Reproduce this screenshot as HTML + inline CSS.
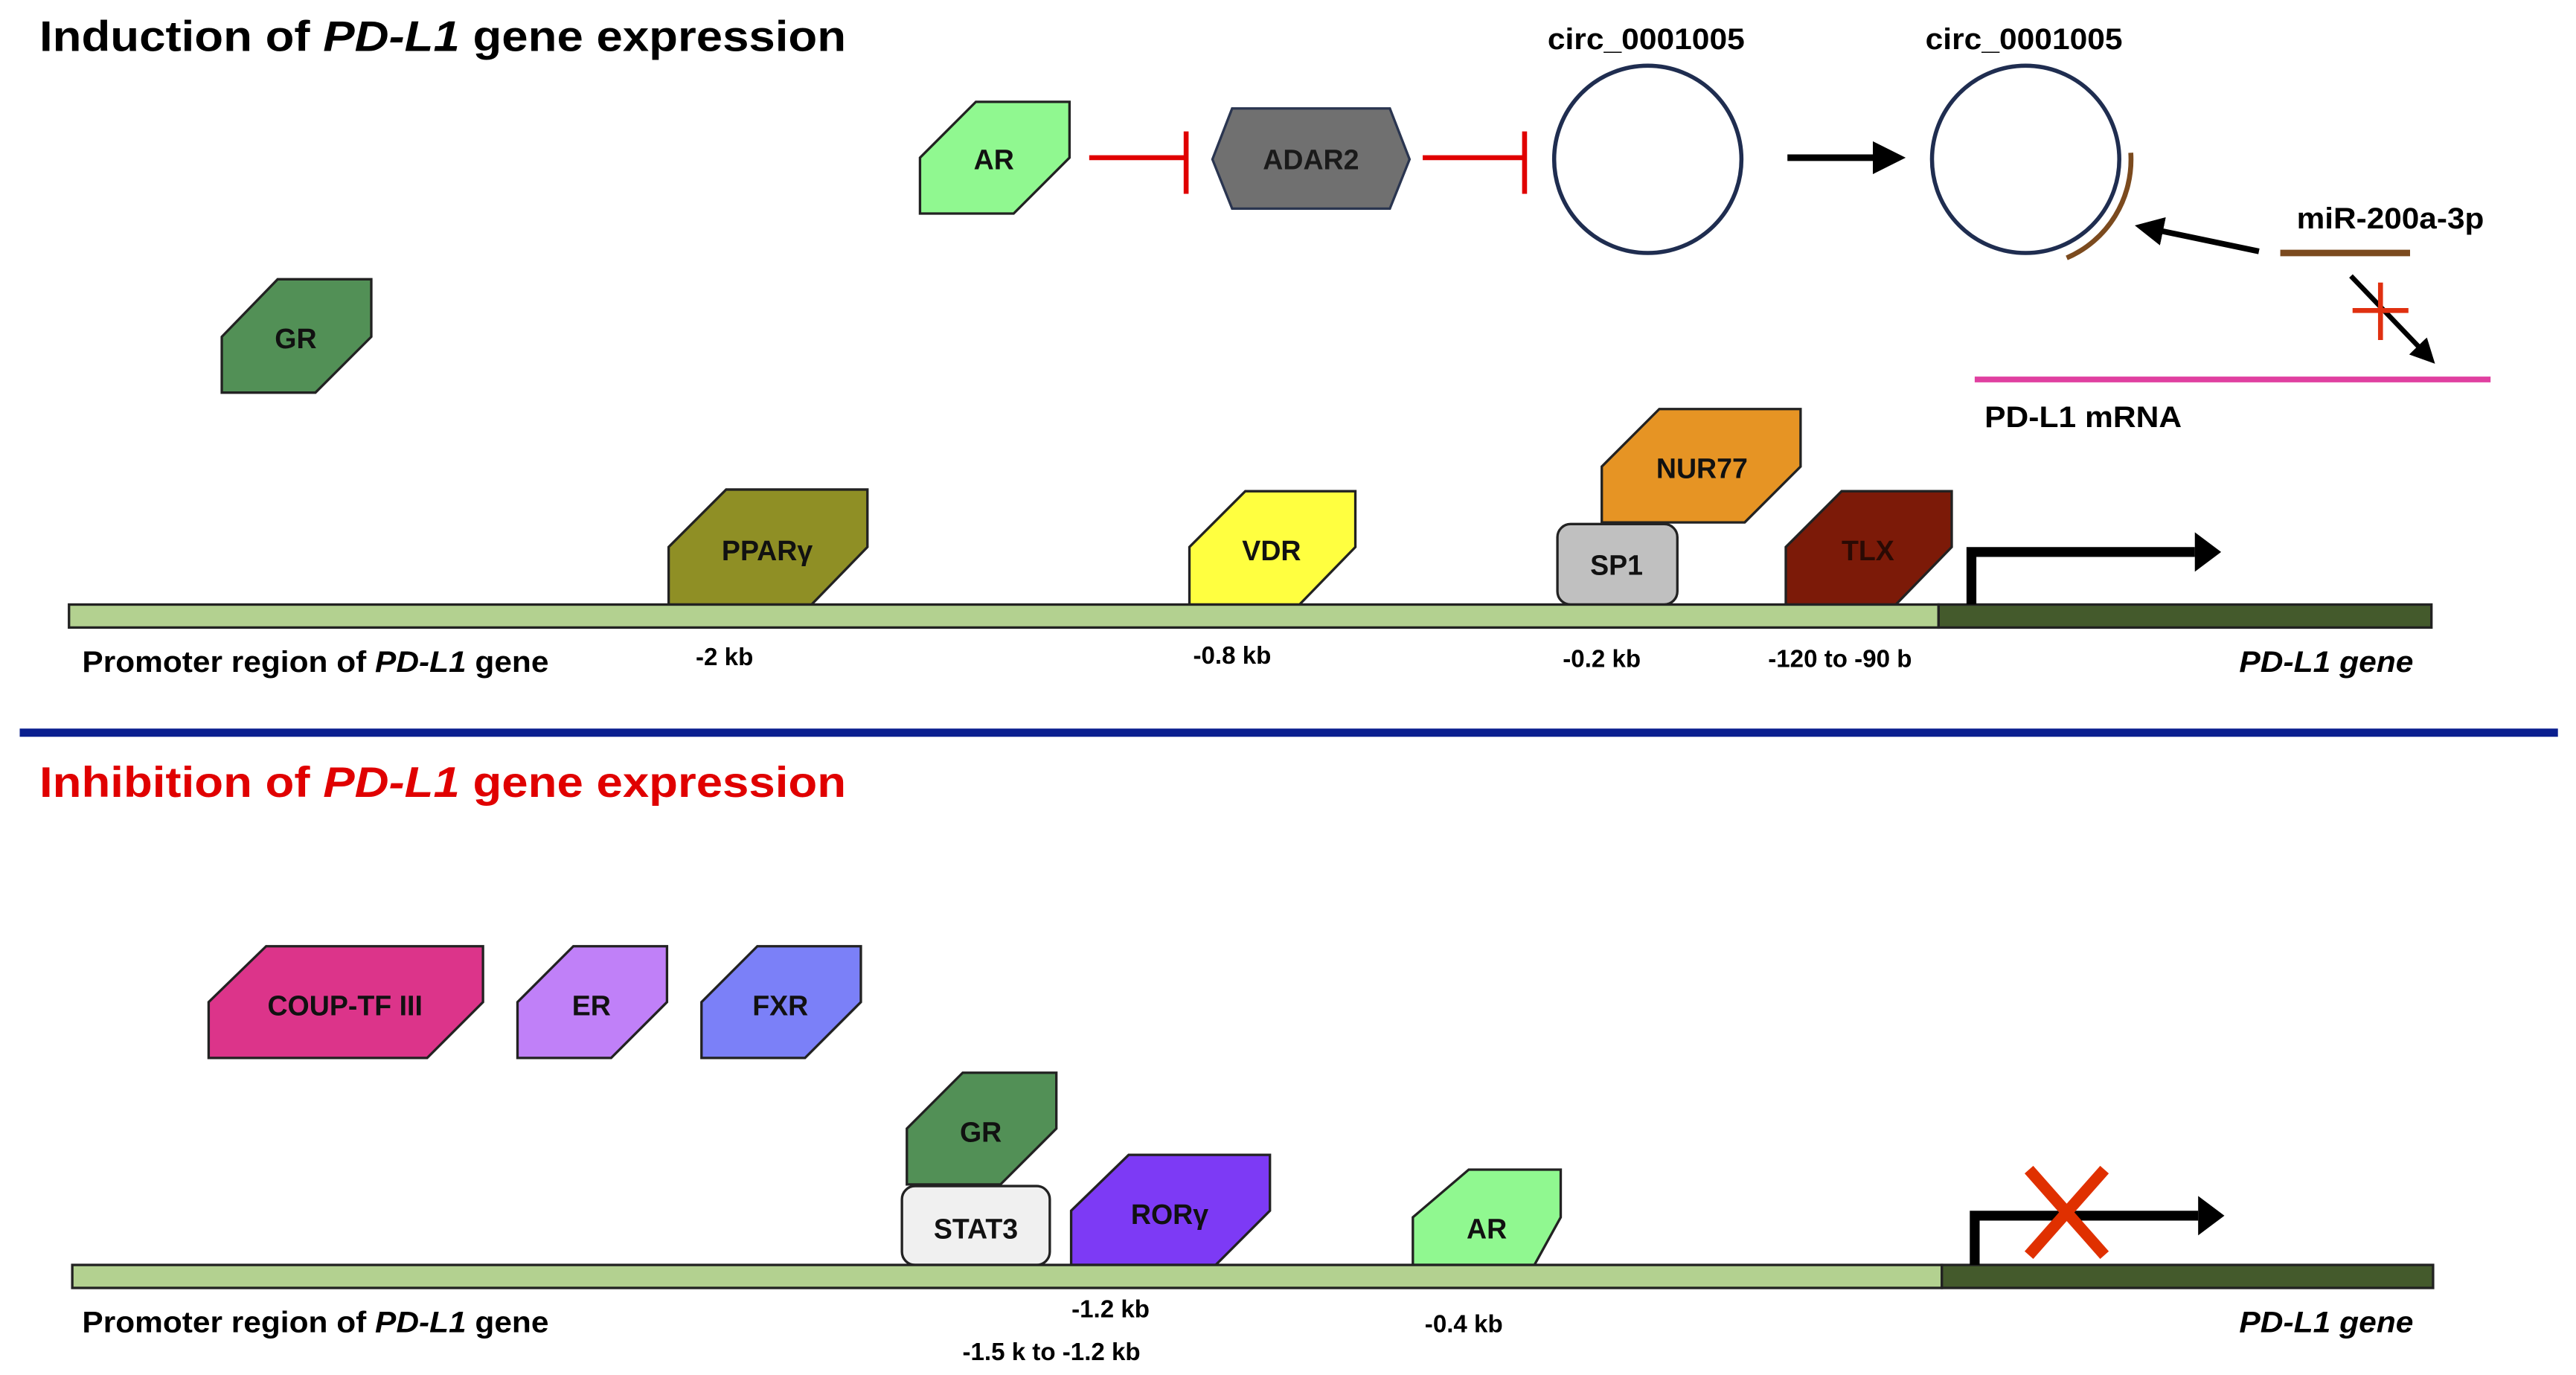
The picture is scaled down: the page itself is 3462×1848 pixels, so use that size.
<!DOCTYPE html>
<html><head><meta charset="utf-8"><style>
html,body{margin:0;padding:0;background:#fff;}
svg{display:block;}
text{font-family:"Liberation Sans",Arial,sans-serif;font-weight:bold;}
</style></head><body>
<svg width="3462" height="1848" viewBox="0 0 1568 837" preserveAspectRatio="none" xmlns="http://www.w3.org/2000/svg">
<defs>
<marker id="ah" markerWidth="5" markerHeight="5" refX="2.5" refY="2.5" orient="auto" markerUnits="strokeWidth"><path d="M0,0 L5,2.5 L0,5 z" fill="#000"/></marker>
</defs>
<!-- Titles -->
<text x="24" y="31" font-size="26" textLength="491" lengthAdjust="spacingAndGlyphs">Induction of <tspan font-style="italic">PD-L1</tspan> gene expression</text>
<text x="24" y="485" font-size="26" fill="#e00000" textLength="491" lengthAdjust="spacingAndGlyphs">Inhibition of <tspan font-style="italic">PD-L1</tspan> gene expression</text>
<rect x="12" y="443.5" width="1545" height="5" fill="#0a1f8f"/>

<g stroke="#222" stroke-width="1.5">
<polygon points="594,62 651,62 651,96 617,130 560,130 560,96" fill="#90f890"/>
<polygon points="169,170 226,170 226,205 192,239 135,239 135,205" fill="#529056"/>
<polygon points="750,66 846,66 858,97 846,127 750,127 738,97" fill="#707070" stroke="#2a3550"/>
<polygon points="442,298 528,298 528,333 494,368 407,368 407,333" fill="#8f8f25"/>
<polygon points="758,299 825,299 825,333 791,368 724,368 724,333" fill="#ffff40"/>
<polygon points="1010,249 1096,249 1096,284 1062,318 975,318 975,284" fill="#e69424"/>
<rect x="948" y="319" width="73" height="49" rx="8" fill="#c0c0c0"/>
<polygon points="1121,299 1188,299 1188,333 1154,368 1087,368 1087,333" fill="#7c1a08"/>
<rect x="42" y="368" width="1138" height="14" fill="#b3d190"/>
<rect x="1180" y="368" width="300" height="14" fill="#445a2c"/>
<polygon points="162,576 294,576 294,610 260,644 127,644 127,610" fill="#dc348a"/>
<polygon points="349,576 406,576 406,610 372,644 315,644 315,610" fill="#c080f8"/>
<polygon points="461,576 524,576 524,610 490,644 427,644 427,610" fill="#7b80f8"/>
<polygon points="586,653 643,653 643,687 609,721 552,721 552,687" fill="#529056"/>
<rect x="549" y="722" width="90" height="48" rx="8" fill="#f0f0f0"/>
<polygon points="687,703 773,703 773,737 740,770 652,770 652,737" fill="#7d3af5"/>
<polygon points="894,712 950,712 950,741 934,770 860,770 860,741" fill="#90f890"/>
<rect x="44" y="770" width="1138" height="14" fill="#b3d190"/>
<rect x="1182" y="770" width="299" height="14" fill="#445a2c"/>
</g>

<g font-size="17" text-anchor="middle" fill="#111">
<text x="605" y="103">AR</text>
<text x="798" y="103" fill="#1a1a1a">ADAR2</text>
<text x="180" y="212">GR</text>
<text x="467" y="341">PPARγ</text>
<text x="774" y="341">VDR</text>
<text x="1036" y="291">NUR77</text>
<text x="984" y="350">SP1</text>
<text x="1137" y="341" fill="#2a0a04">TLX</text>
<text x="210" y="618">COUP-TF III</text>
<text x="360" y="618">ER</text>
<text x="475" y="618">FXR</text>
<text x="597" y="695">GR</text>
<text x="594" y="754">STAT3</text>
<text x="712" y="745">RORγ</text>
<text x="905" y="754">AR</text>
</g>

<g stroke="#e00000" stroke-width="3" fill="none">
<line x1="663" y1="96" x2="722" y2="96"/><line x1="722" y1="80" x2="722" y2="118"/>
<line x1="866" y1="96" x2="928" y2="96"/><line x1="928" y1="80" x2="928" y2="118"/>
</g>
<ellipse cx="1003" cy="97" rx="57" ry="57" fill="none" stroke="#1f2d50" stroke-width="2.5"/>
<ellipse cx="1233" cy="97" rx="57" ry="57" fill="none" stroke="#1f2d50" stroke-width="2.5"/>
<path d="M1297,93 A64,65 0 0 1 1258,157" fill="none" stroke="#7b4a1e" stroke-width="3"/>
<text x="1002" y="30" font-size="18" text-anchor="middle" textLength="120" lengthAdjust="spacingAndGlyphs">circ_0001005</text>
<text x="1232" y="30" font-size="18" text-anchor="middle" textLength="120" lengthAdjust="spacingAndGlyphs">circ_0001005</text>
<line x1="1088" y1="96" x2="1150" y2="96" stroke="#000" stroke-width="4" marker-end="url(#ah)"/>
<line x1="1388" y1="154" x2="1467" y2="154" stroke="#7b4a1e" stroke-width="4"/>
<text x="1398" y="139" font-size="18" textLength="114" lengthAdjust="spacingAndGlyphs">miR-200a-3p</text>
<line x1="1375" y1="153" x2="1308" y2="139" stroke="#000" stroke-width="3.5" marker-end="url(#ah)"/>
<line x1="1431" y1="168" x2="1477" y2="216" stroke="#000" stroke-width="3" marker-end="url(#ah)"/>
<g stroke="#e03010" stroke-width="3"><line x1="1449" y1="172" x2="1449" y2="207"/><line x1="1432" y1="189" x2="1466" y2="189"/></g>
<line x1="1202" y1="231" x2="1516" y2="231" stroke="#e040a0" stroke-width="3.5"/>
<text x="1208" y="260" font-size="18" textLength="120" lengthAdjust="spacingAndGlyphs">PD-L1 mRNA</text>

<path d="M1200,368 V336 H1336" fill="none" stroke="#000" stroke-width="6"/>
<polygon points="1336,324 1352,336 1336,348" fill="#000"/>
<path d="M1202,770 V740 H1338" fill="none" stroke="#000" stroke-width="6"/>
<polygon points="1338,728 1354,740 1338,752" fill="#000"/>
<g stroke="#e03000" stroke-width="7"><line x1="1235" y1="712" x2="1281" y2="764"/><line x1="1281" y1="712" x2="1235" y2="764"/></g>

<g font-size="18">
<text x="50" y="409" textLength="284" lengthAdjust="spacingAndGlyphs">Promoter region of <tspan font-style="italic">PD-L1</tspan> gene</text>
<text x="1363" y="409" font-style="italic" textLength="106" lengthAdjust="spacingAndGlyphs">PD-L1 gene</text>
<text x="50" y="811" textLength="284" lengthAdjust="spacingAndGlyphs">Promoter region of <tspan font-style="italic">PD-L1</tspan> gene</text>
<text x="1363" y="811" font-style="italic" textLength="106" lengthAdjust="spacingAndGlyphs">PD-L1 gene</text>
</g>
<g font-size="15" text-anchor="middle">
<text x="441" y="405">-2 kb</text>
<text x="750" y="404">-0.8 kb</text>
<text x="975" y="406">-0.2 kb</text>
<text x="1120" y="406">-120 to -90 b</text>
<text x="676" y="802">-1.2 kb</text>
<text x="640" y="828">-1.5 k to -1.2 kb</text>
<text x="891" y="811">-0.4 kb</text>
</g>
</svg>
</body></html>
